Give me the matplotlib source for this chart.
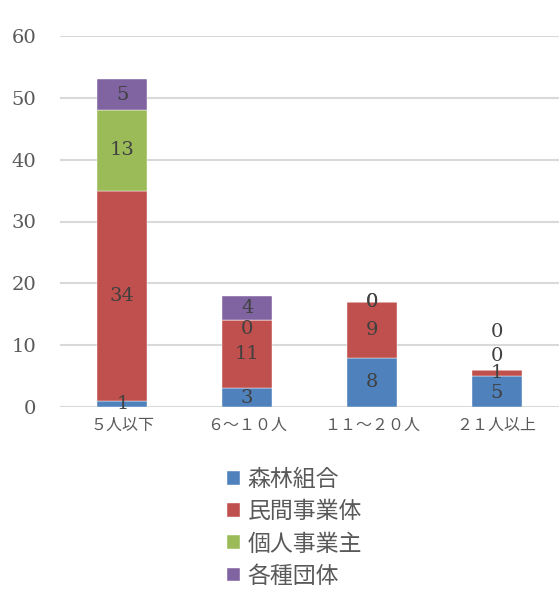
import matplotlib
matplotlib.use('Agg')
import matplotlib.pyplot as plt
import numpy as np

categories = ['５人以下', '６～１０人', '１１～２０人', '２１人以上']
series_names = ['森林組合', '民間事業体', '個人事業主', '各種団体']
forest_union = [1, 3, 8, 5]
private_firm = [34, 11, 9, 1]
individual = [13, 0, 0, 0]
groups = [5, 4, 0, 0]
colors = ['#4F81BD', '#C0504D', '#9BBB59', '#8064A2']

# label nudges (points) where labels would sit on top of each other
nudges = {(1, 2): -6, (3, 0): -1, (3, 2): 10, (3, 3): 27}

jp = ['Noto Sans CJK JP', 'DejaVu Sans']
num_font = 'DejaVu Serif'
grey = '#595959'

fig = plt.figure(figsize=(5.59, 5.90), dpi=100)
ax = fig.add_axes([60 / 559, 1 - 407 / 590, 499 / 559, 371 / 590])

x = np.arange(len(categories))
data = [forest_union, private_firm, individual, groups]
bottom = np.zeros(len(categories))
handles = []
for i, vals in enumerate(data):
    vals = np.array(vals, dtype=float)
    b = ax.bar(x, vals, 0.4, bottom=bottom, color=colors[i],
               edgecolor='white', linewidth=0.3, label=series_names[i], zorder=3)
    handles.append(b)
    for j, v in enumerate(vals):
        yc = bottom[j] + v / 2
        dy = nudges.get((j, i), 0)
        ax.annotate(f'{int(v)}', (x[j], yc), xytext=(0, dy), textcoords='offset points',
                    ha='center', va='center', fontsize=14, family=num_font,
                    color='#404040', zorder=5)
    bottom += vals

ax.set_xlim(-0.5, 3.5)
ax.set_ylim(0, 60)
ax.set_yticks(range(0, 61, 10))
ax.yaxis.grid(True, color='#D9D9D9', linewidth=1.5, zorder=0)
for s in ax.spines.values():
    s.set_visible(False)
ax.tick_params(length=0)
ax.set_yticklabels([str(t) for t in range(0, 61, 10)], family=num_font,
                   fontsize=14, color=grey)
ax.tick_params(axis='y', pad=17)
ax.set_xticks(x)
ax.set_xticklabels(categories, family=jp, fontsize=11.5, color=grey)
ax.tick_params(axis='x', pad=7)

leg = fig.legend(handles=handles, labels=series_names, loc='upper left',
                 bbox_to_anchor=(218 / 559, 1 - 459 / 590), frameon=False,
                 prop={'family': jp, 'size': 16.5}, handlelength=0.55, handleheight=0.55,
                 handletextpad=0.35, labelspacing=0.4, borderaxespad=0)
for t in leg.get_texts():
    t.set_color(grey)

fig.savefig('out.png', dpi=100)
